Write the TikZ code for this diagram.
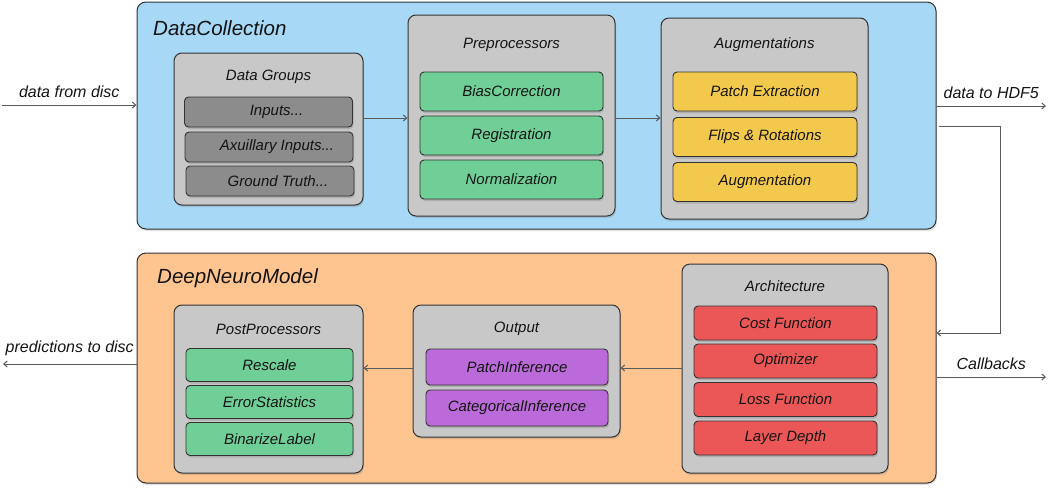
\documentclass[tikz,border=0pt]{standalone}
\usepackage{fontspec}
\setmainfont{Liberation Sans}
\usepackage{xcolor}
\usepackage{tikz}
\usetikzlibrary{arrows.meta,shadows}
\definecolor{dcblue}{HTML}{A7D8F6}
\definecolor{dnmorange}{HTML}{FFC590}
\definecolor{grpgray}{HTML}{C8C8C8}
\definecolor{inputgray}{HTML}{8C8C8C}
\definecolor{stepgreen}{HTML}{6FCF97}
\definecolor{augyellow}{HTML}{F2C94C}
\definecolor{outpurple}{HTML}{BB6BD9}
\definecolor{archred}{HTML}{EB5757}
\definecolor{edgegray}{HTML}{333333}
\definecolor{arrowgray}{HTML}{5A5A5A}

\begin{document}
\begin{tikzpicture}[x=1pt, y=-1pt, >={Straight Barb[length=3.5pt,width=6pt]},
    font=\fontsize{15}{18}\selectfont\itshape, text=black!92,
    outerbox/.style={draw=edgegray, line width=1pt, rounded corners=9pt, inner sep=0pt,
        drop shadow={shadow xshift=1pt, shadow yshift=-2pt, opacity=0.25}},
    groupbox/.style={draw=edgegray, fill=grpgray, line width=1pt, rounded corners=8pt, inner sep=0pt,
        drop shadow={shadow xshift=1pt, shadow yshift=-2pt, opacity=0.3}},
    itembox/.style={draw=edgegray, line width=0.9pt, rounded corners=4pt, inner sep=0pt,
        drop shadow={shadow xshift=1pt, shadow yshift=-2pt, opacity=0.35}},
    boxtitle/.style={font=\fontsize{20.5}{24}\selectfont\itshape, inner sep=0pt, anchor=west},
    flowlabel/.style={above=4pt, font=\fontsize{16}{19}\selectfont\itshape},
    flow/.style={->, draw=arrowgray, line width=1pt}]
    \useasboundingbox (0,0) rectangle (1050,491);

    % outer blocks
    \node [outerbox, fill=dcblue, minimum width=799pt, minimum height=227pt] (dc) at (536.5,115.5) {};
    \node [outerbox, fill=dnmorange, minimum width=799pt, minimum height=230pt] (dnm) at (536.5,368) {};
    \node [boxtitle] (dctitle) at (153,28) {DataCollection};
    \node [boxtitle] (dnmtitle) at (157,278) {DeepNeuroModel};

    % DataCollection
    \node [groupbox, minimum width=189pt, minimum height=152pt] (grp) at (268.5,129) {};
    \node (grptitle) at (268.5,77) {Data Groups};
    \node [itembox, fill=inputgray, minimum width=168pt, minimum height=30pt] (inputs) at (268.5,112) {\hspace{16pt}Inputs...};
    \node [itembox, fill=inputgray, minimum width=168pt, minimum height=30pt] (auxinputs) at (269,147) {\hspace{16pt}Axuillary Inputs...};
    \node [itembox, fill=inputgray, minimum width=168pt, minimum height=30pt] (truth) at (270,181) {\hspace{16pt}Ground Truth...};

    \node [groupbox, minimum width=207pt, minimum height=201pt] (pre) at (511.5,115.5) {};
    \node (pretitle) at (511.5,45) {Preprocessors};
    \node [itembox, fill=stepgreen, minimum width=183pt, minimum height=39pt] (bias) at (511.5,91.5) {BiasCorrection};
    \node [itembox, fill=stepgreen, minimum width=183pt, minimum height=39pt] (regis) at (511.5,135.5) {Registration};
    \node [itembox, fill=stepgreen, minimum width=183pt, minimum height=39pt] (norm) at (511.5,179.5) {Normalization};

    \node [groupbox, minimum width=207pt, minimum height=201pt] (aug) at (764.5,118.5) {};
    \node (augtitle) at (764.5,45) {Augmentations};
    \node [itembox, fill=augyellow, minimum width=184pt, minimum height=39pt] (patch) at (765,91.5) {Patch Extraction};
    \node [itembox, fill=augyellow, minimum width=184pt, minimum height=39pt] (flips) at (765,137) {Flips \& Rotations};
    \node [itembox, fill=augyellow, minimum width=184pt, minimum height=39pt] (augment) at (765,182) {Augmentation};

    % DeepNeuroModel
    \node [groupbox, minimum width=189pt, minimum height=168pt] (post) at (268.5,389) {};
    \node (posttitle) at (268.5,329) {PostProcessors};
    \node [itembox, fill=stepgreen, minimum width=167pt, minimum height=33pt] (rescale) at (269.5,365) {Rescale};
    \node [itembox, fill=stepgreen, minimum width=167pt, minimum height=33pt] (errstat) at (269.5,402) {ErrorStatistics};
    \node [itembox, fill=stepgreen, minimum width=167pt, minimum height=33pt] (binlabel) at (269.5,439) {BinarizeLabel};

    \node [groupbox, minimum width=207pt, minimum height=132pt] (out) at (516.5,371) {};
    \node (outtitle) at (516.5,329) {Output};
    \node [itembox, fill=outpurple, minimum width=182pt, minimum height=36pt] (patchinf) at (517,367) {PatchInference};
    \node [itembox, fill=outpurple, minimum width=182pt, minimum height=36pt] (catinf) at (517,408) {CategoricalInference};

    \node [groupbox, minimum width=206pt, minimum height=209pt] (arch) at (785,368.5) {};
    \node (archtitle) at (785,286) {Architecture};
    \node [itembox, fill=archred, minimum width=183pt, minimum height=34pt] (cost) at (785.5,323) {Cost Function};
    \node [itembox, fill=archred, minimum width=183pt, minimum height=34pt] (optim) at (785.5,361) {Optimizer};
    \node [itembox, fill=archred, minimum width=183pt, minimum height=34pt] (loss) at (785.5,399.5) {Loss Function};
    \node [itembox, fill=archred, minimum width=183pt, minimum height=34pt] (depth) at (785.5,438) {Layer Depth};

    % connectors
    \coordinate (disc) at (2,105);
    \coordinate (hdf) at (1046,106);
    \coordinate (loop) at (1000,126);
    \coordinate (preds) at (3,364);
    \coordinate (calls) at (1046,377);
    \draw [flow] (disc) -- node [flowlabel] {data from disc} (disc -| dc.west);
    \draw [flow] (grp.east |- 0,118) -- (pre.west |- 0,118);
    \draw [flow] (pre.east |- 0,118) -- (aug.west |- 0,118);
    \draw [flow] (hdf -| dc.east) -- node [flowlabel] {data to HDF5} (hdf);
    \draw [flow] ([xshift=2pt]loop -| dc.east) -- (loop) |- (dnm.east |- 0,333);
    \draw [flow] (arch.west |- 0,368) -- (out.east |- 0,368);
    \draw [flow] (out.west |- 0,368) -- (post.east |- 0,368);
    \draw [flow] (preds -| dnm.west) -- node [flowlabel] {predictions to disc} (preds);
    \draw [flow] (calls -| dnm.east) -- node [flowlabel] {Callbacks} (calls);
\end{tikzpicture}
\end{document}
